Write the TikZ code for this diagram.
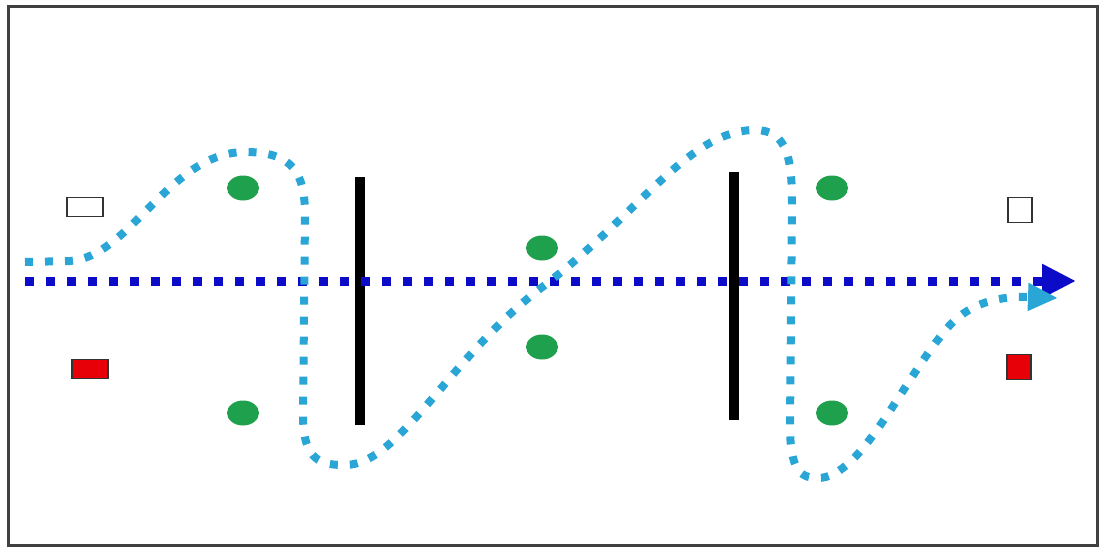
\documentclass[tikz,border=0pt]{standalone}
\usepackage{xcolor}
\usepackage{tikz}
\usetikzlibrary{shapes.geometric,arrows.meta,positioning,calc}

\definecolor{drillblue}{HTML}{0C0CC8}
\definecolor{runblue}{HTML}{2AA6D6}
\definecolor{markgreen}{HTML}{1FA04C}
\definecolor{markred}{HTML}{E80008}

\begin{document}
\begin{tikzpicture}[
  x=1pt, y=-1pt,
  frame/.style={draw=black!75, line width=3pt},
  spot/.style={ellipse, fill=markgreen, draw=none, minimum width=32pt,
               minimum height=25pt, inner sep=0pt},
  cone/.style={rectangle, draw=black!80, line width=1.5pt, inner sep=0pt},
  pole/.style={rectangle, fill=black, draw=none, minimum width=10pt, inner sep=0pt},
  pass/.style={draw=drillblue, line width=9pt, dash pattern=on 9pt off 12pt,
               -{Triangle[length=34pt,width=32pt]}},
  run/.style={draw=runblue, line width=8pt, dash pattern=on 8pt off 12pt,
              -{Triangle[length=30pt,width=26pt]}},
]
\useasboundingbox (0,0) rectangle (1104,554);
\draw[frame] (8,6) rectangle (1097,545);

% marker cones
\node[cone, fill=white, minimum width=36pt, minimum height=19pt] (wl) at (85,207) {};
\node[cone, fill=markred, minimum width=36pt, minimum height=19pt] (rl) at (90,369) {};
\node[cone, fill=white, minimum width=24pt, minimum height=25pt] (wr) at (1020,210) {};
\node[cone, fill=markred, minimum width=24pt, minimum height=25pt] (rr) at (1019,367) {};

% players
\node[spot] (p1) at (243,188) {};
\node[spot] (p2) at (243,413) {};
\node[spot] (p3) at (542,248) {};
\node[spot] (p4) at (542,347) {};
\node[spot] (p5) at (832,188) {};
\node[spot] (p6) at (832,413) {};

% poles
\node[pole, minimum height=248pt] (gl) at (360,301) {};
\node[pole, minimum height=248pt] (gr) at (734,296) {};

% pass line
\coordinate (ps) at (25,281);
\coordinate (pe) at (1076,281);
\draw[pass] (ps) -- (pe);

% running line
\coordinate (rs) at (25,262);
\coordinate (re) at (1058,298);
\draw[run] (rs) -- (70,261)
  .. controls (130,257) and (170,152) .. (245,152)
  .. controls (292,152) and (305,172) .. (305,215)
  -- (303,415)
  .. controls (303,462) and (322,465) .. (345,465)
  .. controls (400,465) and (450,355) .. (545,285)
  .. controls (640,212) and (690,130) .. (755,130)
  .. controls (788,130) and (792,160) .. (792,205)
  -- (790,425)
  .. controls (790,470) and (800,478) .. (818,478)
  .. controls (862,478) and (905,375) .. (950,325)
  .. controls (972,302) and (1000,296) .. (re);
\end{tikzpicture}
\end{document}
